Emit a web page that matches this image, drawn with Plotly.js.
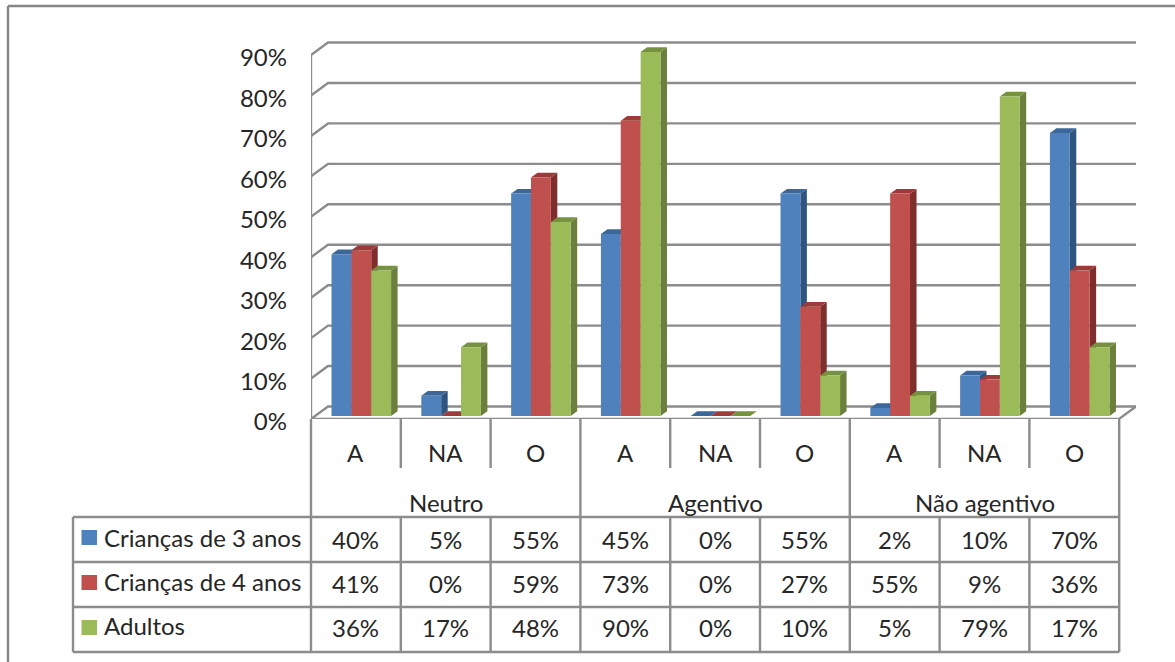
<!DOCTYPE html>
<html>
<head>
<meta charset="utf-8">
<script src="https://cdn.plot.ly/plotly-3.0.1.min.js"></script>
<style>html,body{margin:0;padding:0;background:#fff}#chart{width:1175px;height:662px}</style>
</head>
<body>
<div id="chart"></div>
<script>
// Chart content
const groups = ["Neutro", "Agentivo", "Não agentivo"];
const categories = ["A", "NA", "O", "A", "NA", "O", "A", "NA", "O"];
const seriesNames = ["Crianças de 3 anos", "Crianças de 4 anos", "Adultos"];
const criancas3 = [40, 5, 55, 45, 0, 55, 2, 10, 70];
const criancas4 = [41, 0, 59, 73, 0, 27, 55, 9, 36];
const adultos = [36, 17, 48, 90, 0, 10, 5, 79, 17];
const yTicks = [0, 10, 20, 30, 40, 50, 60, 70, 80, 90];

// Face colours per series
const frontColors = ["#4F81BD", "#C0504D", "#9BBB59"];
const sideColors = ["#2F5480", "#7F2E2C", "#6A803C"];
const topColors = ["#3C6799", "#9C3B39", "#76913F"];
const lineColor = "#8C8C8C";
const textColor = "#262626";
const fontFamily = "Lato, 'Open Sans', sans-serif";
const fontSize = 24;

// Page geometry, in pixels
const W = 1175, H = 662;
const plotL = 311, plotR = 1136, plotT = 38, plotB = 419;
const catPx = 89.8, pctPx = 4.044;
const pageX = p => (p - plotL) / (plotR - plotL);
const pageY = p => (plotB - p) / (plotB - plotT);

// 3D depth offsets, in axis units
const wallDx = 17 / catPx, wallDy = 12.5 / pctPx;
const barDx = 6.5 / catPx, barDy = 4.7 / pctPx;
const barBase = 3 / pctPx, barW = 19.85 / catPx, barShift = 5.4 / catPx;

const seriesValues = [criancas3, criancas4, adultos];
const traces = [];

// Walls and floor: the slanted left edge and the back line at each tick
const xEnd = (plotR - plotL) / catPx;
const gx = [], gy = [];
yTicks.forEach(v => {
  gx.push(0, wallDx, xEnd, null);
  gy.push(v, v + wallDy, v + wallDy, null);
});
gx.push(0, 0, null, 0, xEnd - wallDx, xEnd);
gy.push(0, 90, null, 0, 0, wallDy);
traces.push({
  type: "scatter", mode: "lines", x: gx, y: gy, cliponaxis: false, zorder: 0,
  line: {color: lineColor, width: 2.4}, hoverinfo: "skip", showlegend: false
});

// Each series: top and side faces first, then the front bars over them
seriesValues.forEach((vals, k) => {
  const xc = vals.map((_, i) => i + 0.5 + barShift + (k - 1) * barW);
  const sx = [], sy = [], tx = [], ty = [];
  vals.forEach((v, i) => {
    const x0 = xc[i] - barW / 2, x1 = xc[i] + barW / 2, top = v + barBase;
    sx.push(x1, x1 + barDx, x1 + barDx, x1, x1, null);
    sy.push(barBase, barBase + barDy, top + barDy, top, barBase, null);
    tx.push(x0, x0 + barDx, x1 + barDx, x1, x0, null);
    ty.push(top, top + barDy, top + barDy, top, top, null);
  });
  traces.push({
    type: "scatter", mode: "lines", x: sx, y: sy, fill: "toself", fillcolor: sideColors[k],
    line: {width: 0}, hoverinfo: "skip", showlegend: false, zorder: 2 * k + 1
  });
  traces.push({
    type: "scatter", mode: "lines", x: tx, y: ty, fill: "toself", fillcolor: topColors[k],
    line: {width: 0}, hoverinfo: "skip", showlegend: false, zorder: 2 * k + 1
  });
  traces.push({
    type: "bar", name: seriesNames[k], x: xc, y: vals, base: barBase, width: barW,
    marker: {color: frontColors[k], line: {width: 0}}, showlegend: false, zorder: 2 * k + 2
  });
});

// Data table below the axis
const shapes = [];
const pageLine = (x0, y0, x1, y1, color, width) => shapes.push({
  type: "line", xref: "paper", yref: "paper",
  x0: pageX(x0), x1: pageX(x1), y0: pageY(y0), y1: pageY(y1),
  line: {color: color || lineColor, width: width || 2.4}
});

const colX = i => plotL + i * catPx;
const tableL = 73, catBottom = 468, tableT = 517, tableB = 652;
const rowLines = [517, 562, 607, 652];

pageLine(8, 6, 8, H, "#858585", 2.4);
pageLine(8, 6, W, 6, "#858585", 2.4);
for (let i = 0; i <= 9; i++) {
  pageLine(colX(i), plotB, colX(i), i % 3 === 0 ? tableB : catBottom);
  if (i % 3 !== 0) pageLine(colX(i), tableT, colX(i), tableB);
}
rowLines.forEach(y => pageLine(tableL, y, colX(9), y));
pageLine(tableL, tableT, tableL, tableB);

const annotations = [];
const note = (text, xPixel, yPixel, anchor) => annotations.push({
  text, xref: "paper", yref: "paper", x: pageX(xPixel), y: pageY(yPixel),
  xanchor: anchor || "center", yanchor: "middle", showarrow: false,
  font: {family: fontFamily, size: fontSize, color: textColor}
});

categories.forEach((c, i) => note(c, colX(i + 0.5), 453));
groups.forEach((g, j) => note(g, colX(3 * j + 1.5), 502));

const rowCentres = [539, 583, 627];
const keyTops = [530, 575, 620];
seriesValues.forEach((vals, k) => {
  note(seriesNames[k], 102, rowCentres[k] - 2, "left");
  shapes.push({
    type: "rect", xref: "paper", yref: "paper",
    x0: pageX(81.5), x1: pageX(97), y0: pageY(keyTops[k]), y1: pageY(keyTops[k] + 15),
    fillcolor: frontColors[k], line: {width: 0}
  });
  vals.forEach((v, i) => note(v + "%", colX(i + 0.5), rowCentres[k]));
});

const layout = {
  width: W, height: H,
  margin: {l: plotL, r: W - plotR, t: plotT, b: H - plotB, pad: 0},
  paper_bgcolor: "#ffffff", plot_bgcolor: "rgba(0,0,0,0)",
  barmode: "overlay", showlegend: false, hovermode: "closest",
  xaxis: {range: [0, xEnd], showgrid: false, zeroline: false, showline: false,
    showticklabels: false, ticks: "", fixedrange: true},
  yaxis: {range: [0, (plotB - plotT) / pctPx], showgrid: false, zeroline: false, showline: false,
    tickmode: "array", tickvals: yTicks, ticktext: yTicks.map(v => v + "%"),
    ticks: "", ticklabelstandoff: 23, ticklabelshift: 3, fixedrange: true,
    tickfont: {family: fontFamily, size: fontSize, color: textColor}},
  shapes, annotations
};

Plotly.newPlot("chart", traces, layout, {displayModeBar: false, staticPlot: true});
</script>
</body>
</html>
